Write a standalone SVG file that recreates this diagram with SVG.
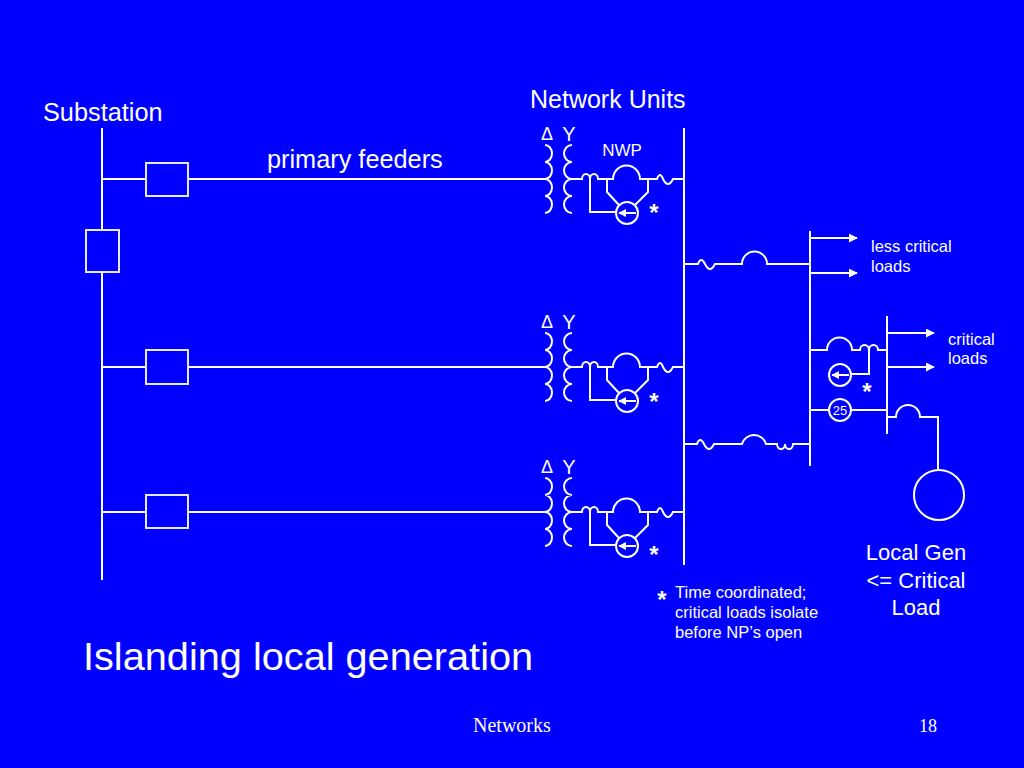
<svg xmlns="http://www.w3.org/2000/svg" width="1024" height="768" viewBox="0 0 1024 768">
<defs>
<style>
.w{fill:none;stroke:#fff;stroke-width:2}
.box{fill:#0000ff;stroke:#e8e8ff;stroke-width:2}
.t{fill:#fff;font-family:"Liberation Sans",Arial,sans-serif}
.tm{fill:#fff;font-family:"Liberation Serif","Times New Roman",serif}
.ast{fill:#fff;font-family:"Liberation Sans",Arial,sans-serif;font-size:24px;font-weight:bold;text-anchor:middle}
</style>
<marker id="ah" viewBox="0 0 10 10" refX="9" refY="5" markerWidth="4.5" markerHeight="4.5" orient="auto" markerUnits="strokeWidth">
<path d="M0,0 L10,5 L0,10 z" fill="#fff"/>
</marker>
<marker id="ah2" viewBox="0 0 10 10" refX="9" refY="5" markerWidth="4" markerHeight="4" orient="auto" markerUnits="strokeWidth">
<path d="M0,0 L10,5 L0,10 z" fill="#fff"/>
</marker>
<g id="unit">
<text class="t" x="547" y="-39" font-size="18" text-anchor="middle">Δ</text>
<text class="t" x="569" y="-38" font-size="20" text-anchor="middle">Y</text>
<path class="w" d="M545,-34 a7,8.5 0 0 1 0,17 a7,8.5 0 0 1 0,17 a7,8.5 0 0 1 0,17 a7,8.5 0 0 1 0,17"/>
<path class="w" d="M572,-34 a8,8.5 0 0 0 0,17 a8,8.5 0 0 0 0,17 a8,8.5 0 0 0 0,17 a8,8.5 0 0 0 0,17"/>
<path class="w" d="M572,0 H582 a4,5 0 0 1 8,0 a4,5 0 0 1 8,0 H613 a13.5,13.5 0 0 1 27,0 H657 q3,-8 6,0 q5,10 10,0 H684"/>
<path class="w" d="M590,0 V33 H616"/>
<path class="w" d="M607,0 V13 L619,26 M648,0 V13 L635,26"/>
<circle class="w" cx="627" cy="34" r="11"/>
<line class="w" x1="636" y1="34" x2="619" y2="34" marker-end="url(#ah2)"/>
</g>
</defs>
<rect width="1024" height="768" fill="#0000ff"/>

<g id="connectors">
<line class="w" x1="102" y1="128" x2="102" y2="580"/>
<line class="w" x1="684" y1="128" x2="684" y2="565"/>
<path class="w" d="M102,179 H146 M188,179 H545"/>
<path class="w" d="M102,367 H146 M188,367 H545"/>
<path class="w" d="M102,512 H146 M188,512 H545"/>
<path class="w" d="M684,264 H698 q3,-8 7,0 q5,10 10,0 H742 a12.5,12.5 0 0 1 25,0 H810"/>
<path class="w" d="M684,444 H697 q3,-8 7,0 q5,10 10,0 H742 a12.5,12.5 0 0 1 24,0 H777 a4,5 0 0 0 8,0 a4,5 0 0 0 8,0 H810"/>
<line class="w" x1="810" y1="231" x2="810" y2="466"/>
<line class="w" x1="810" y1="238" x2="857" y2="238" marker-end="url(#ah)"/>
<line class="w" x1="810" y1="273" x2="857" y2="273" marker-end="url(#ah)"/>
<path class="w" d="M810,350 H827 a12.5,12.5 0 0 1 25,0 H860 a4.5,5 0 0 1 9,0 a4.5,5 0 0 1 9,0 H887"/>
<path class="w" d="M869,350 V374 H851"/>
<path class="w" d="M810,410 H829 M851,410 H887"/>
<line class="w" x1="887" y1="316" x2="887" y2="434"/>
<line class="w" x1="887" y1="333" x2="934" y2="333" marker-end="url(#ah)"/>
<line class="w" x1="887" y1="367" x2="934" y2="367" marker-end="url(#ah)"/>
<path class="w" d="M887,417 H896 a12,12 0 0 1 24,0 H938 V470"/>
</g>

<g id="substation">
<text class="t" x="43" y="121" font-size="25.3">Substation</text>
<rect class="box" x="86" y="230" width="33" height="42"/>
</g>
<g id="feeder-breakers">
<rect class="box" x="146" y="163" width="42" height="33"/>
<rect class="box" x="146" y="350" width="42" height="34"/>
<rect class="box" x="146" y="495" width="42" height="33"/>
<text class="t" x="267" y="168" font-size="25.3">primary feeders</text>
</g>
<text class="t" x="530" y="108" font-size="25">Network Units</text>

<g id="unit1">
<use href="#unit" transform="translate(0,179)"/>
<text class="t" x="622" y="156" font-size="17" text-anchor="middle">NWP</text>
<text class="ast" x="654" y="221">*</text>
</g>
<g id="unit2">
<use href="#unit" transform="translate(0,367)"/>
<text class="ast" x="654" y="410">*</text>
</g>
<g id="unit3">
<use href="#unit" transform="translate(0,512)"/>
<text class="ast" x="654" y="563">*</text>
</g>

<g id="less-critical-loads">
<text class="t" x="871" y="252" font-size="16.5">less critical</text>
<text class="t" x="871" y="272" font-size="16.5">loads</text>
</g>
<g id="critical-loads">
<text class="t" x="948" y="345" font-size="16.5">critical</text>
<text class="t" x="948" y="364" font-size="16.5">loads</text>
</g>
<g id="isolating-relay">
<circle class="w" cx="840" cy="375" r="11"/>
<line class="w" x1="849" y1="375" x2="832" y2="375" marker-end="url(#ah2)"/>
<text class="ast" x="867" y="400">*</text>
</g>
<g id="sync-25">
<circle class="w" cx="840" cy="410" r="11"/>
<text class="t" x="840" y="415" font-size="13" text-anchor="middle">25</text>
</g>
<g id="local-gen">
<circle class="w" cx="939" cy="495" r="25"/>
<text class="t" x="916" y="560" font-size="22" text-anchor="middle">Local Gen</text>
<text class="t" x="916" y="588" font-size="22" text-anchor="middle">&lt;= Critical</text>
<text class="t" x="916" y="615" font-size="22" text-anchor="middle">Load</text>
</g>
<g id="footnote">
<text class="ast" x="662" y="608">*</text>
<text class="t" x="675" y="598" font-size="16.5">Time coordinated;</text>
<text class="t" x="675" y="618" font-size="16.5">critical loads isolate</text>
<text class="t" x="675" y="638" font-size="16.5">before NP’s open</text>
</g>
<text class="t" x="83" y="670" font-size="39.7">Islanding local generation</text>
<text class="tm" x="473" y="732" font-size="20">Networks</text>
<text class="tm" x="919" y="732" font-size="18">18</text>
</svg>
